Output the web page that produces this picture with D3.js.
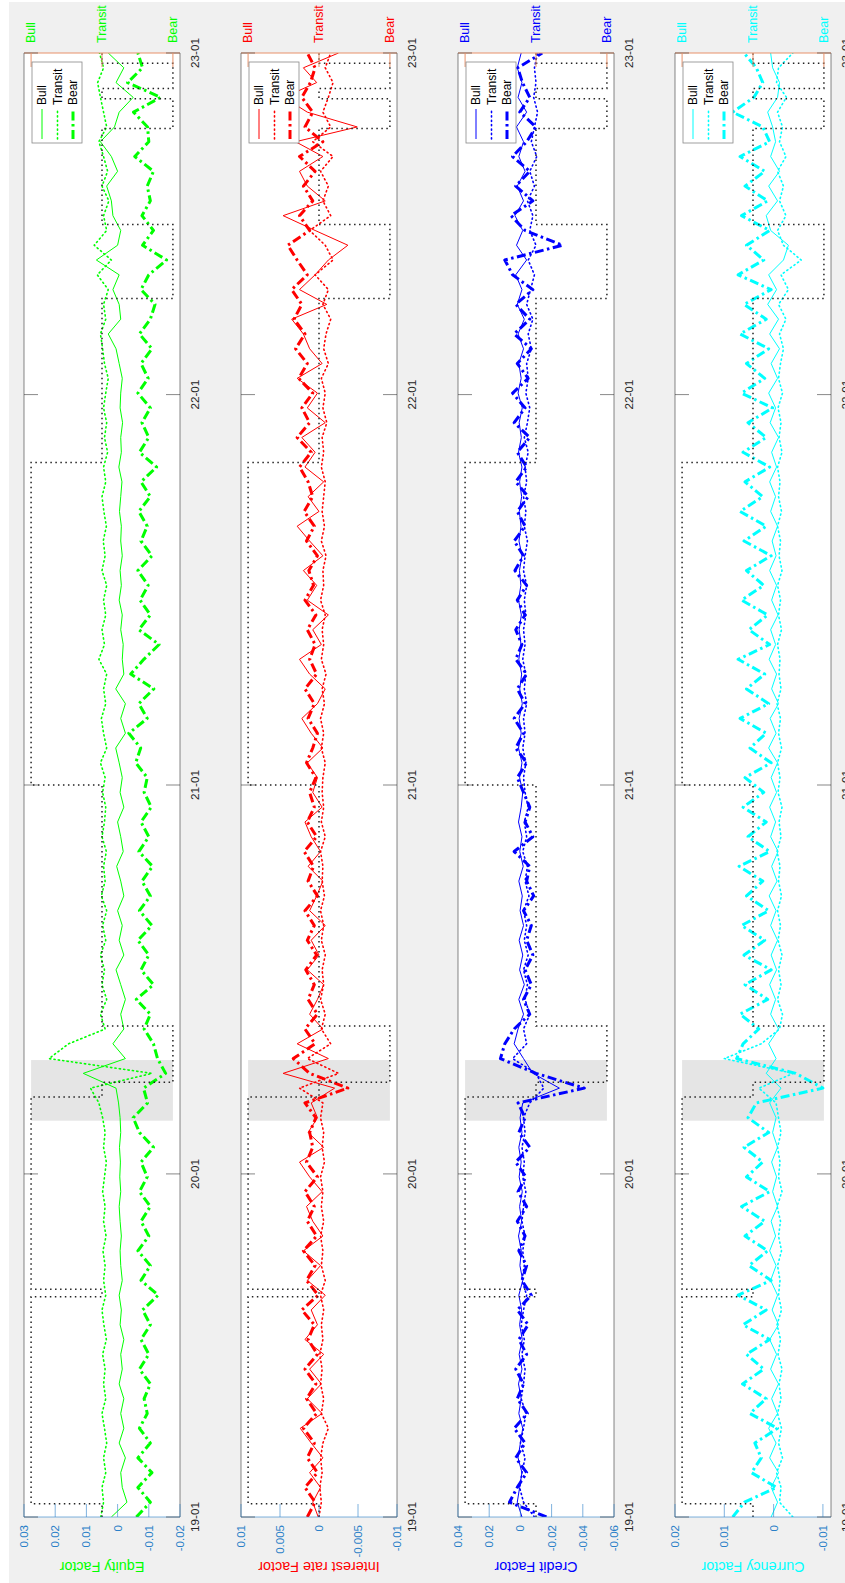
<!DOCTYPE html>
<html><head><meta charset="utf-8">
<script src="https://cdn.jsdelivr.net/npm/d3@7"></script>
<style>body{margin:0;background:#fff}svg{display:block}text{font-family:"Liberation Sans",Arial,Helvetica,sans-serif}</style>
</head><body><svg id="c" width="845" height="1583"></svg>
<script>
// ---------- DATA ----------
const timeTickIndex=[0,23.2,49.5,75.9,99];
const timeTickLabels=["19-01","20-01","21-01","22-01","23-01"];
const regimeLabels=["Bull","Transit","Bear"];
const regimeLevel={Bull:3,Transit:2,Bear:1};
const regimeStart=[0,0.9,14.9,15.4,28.4,29.4,33.2,49.5,71.3,82.4,87.4,93.9,95.9,96.6,98.3,99];
const regimeState=["Transit","Bull","Transit","Bull","Transit","Bear","Transit","Bull","Transit","Bear","Transit","Bear","Transit","Bear","Transit","Transit"];
const shadeRange=[26.8,30.9];
const factorNames=["Equity Factor","Interest rate Factor","Credit Factor","Currency Factor"];
const factorColors=["#00ff00","#ff0000","#0000ff","#00ffff"];
const yDomains=[[-0.02,0.03],[-0.01,0.01],[-0.06,0.04],[-0.01164,0.02]];
const yTicks=[[-0.02,-0.01,0,0.01,0.02,0.03],[-0.01,-0.005,0,0.005,0.01],[-0.06,-0.04,-0.02,0,0.02,0.04],[-0.01,0,0.01,0.02]];
const seriesNames=["Bull","Transit","Bear"];

const eqBull=[0.002,-0.003,-0.0015,-0.001,-0.0025,-0.0005,-0.002,-0.001,-0.002,-0.0005,
-0.0015,-0.001,-0.002,-0.0008,-0.0012,-0.0005,-0.0015,-0.001,-0.0008,-0.0012,
-0.0008,-0.0005,-0.001,-0.0007,-0.0009,-0.0006,-0.001,-0.0008,-0.0003,0.0005,
0.011,-0.0025,0.0015,-0.002,-0.001,-0.0025,-0.001,0.0005,-0.002,-0.0005,
-0.0015,0.0,-0.002,-0.001,0.0003,-0.0018,-0.001,0.0,-0.002,-0.0008,
-0.0015,-0.0005,0.0006,-0.0025,-0.001,-0.0025,0.0006,-0.002,-0.0015,-0.0018,
-0.001,-0.0015,-0.0005,-0.0012,-0.0008,-0.0015,-0.001,-0.0012,-0.0006,-0.001,
-0.0014,-0.0004,-0.0012,-0.001,-0.0016,-0.0008,-0.001,-0.0015,-0.0005,0.0005,
0.003,-0.001,-0.0005,0.0015,-0.0005,0.0068,0.0,-0.001,0.0015,0.002,
0.0035,0.0,0.002,0.0055,0.001,-0.0005,-0.005,0.0005,-0.002,0.003];
const eqTransit=[0.0054,0.0045,0.005,0.0038,0.0045,0.0035,0.0042,0.005,0.0038,0.0045,
0.004,0.0048,0.0036,0.0044,0.005,0.0038,0.0045,0.004,0.0047,0.0037,
0.0045,0.004,0.0048,0.0042,0.0036,0.0045,0.004,0.0048,0.006,0.0087,
-0.011,0.022,0.0157,0.004,0.0055,0.0035,0.005,0.0042,0.0055,0.0038,
0.0048,0.0035,0.0052,0.004,0.0045,0.0036,0.005,0.0042,0.0038,0.0048,
0.004,0.0055,0.0035,0.0045,0.0052,0.0038,0.0045,0.0035,0.006,0.0042,
0.005,0.0038,0.0045,0.0035,0.005,0.004,0.0046,0.0036,0.0044,0.005,
0.0038,0.0045,0.0032,0.0042,0.0035,0.0045,0.0038,0.003,0.0042,0.0048,
0.0055,0.0038,0.0045,0.003,0.0065,0.002,0.0075,0.0035,0.0045,0.0028,
0.005,0.0032,0.0045,0.006,0.0035,0.0045,0.0055,0.0064,0.0045,0.0058];
const eqBear=[-0.006,-0.0105,-0.0065,-0.011,-0.0065,-0.0105,-0.007,-0.0095,-0.0085,-0.0105,
-0.007,-0.01,-0.0075,-0.0105,-0.008,-0.013,-0.0075,-0.0105,-0.0065,-0.01,
-0.0075,-0.0105,-0.007,-0.0095,-0.0075,-0.0115,-0.007,-0.005,-0.0096,-0.0083,
-0.0154,-0.0128,-0.0115,-0.0085,-0.0105,-0.006,-0.0115,-0.0075,-0.01,-0.0065,
-0.011,-0.007,-0.0105,-0.0078,-0.0112,-0.0068,-0.01,-0.0075,-0.0108,-0.0085,
-0.0095,-0.0058,-0.0074,-0.0036,-0.0095,-0.0068,-0.0116,-0.0042,-0.0084,-0.0133,
-0.0068,-0.0105,-0.0072,-0.0098,-0.0065,-0.011,-0.0075,-0.0095,-0.0068,-0.0105,
-0.0075,-0.0125,-0.007,-0.01,-0.0078,-0.0105,-0.0065,-0.0098,-0.0075,-0.011,
-0.007,-0.0105,-0.012,-0.0075,-0.01,-0.0157,-0.008,-0.0115,-0.0078,-0.0105,
-0.0095,-0.0115,-0.0055,-0.01,-0.0096,-0.0051,-0.0138,-0.0032,-0.008,-0.0065];

const irBull=[0.0001,0.0008,-0.0002,0.0012,-0.0005,0.001,0.0024,-0.0004,0.0015,-0.0003,
0.0012,-0.0006,0.0018,0.0002,0.001,-0.0008,0.0015,-0.0002,0.002,-0.0005,
0.0008,0.0016,-0.0004,0.0012,0.0025,-0.0006,0.0014,0.0002,0.001,-0.002,
0.0046,-0.0012,0.0028,-0.0005,0.0012,0.0002,-0.0006,0.0015,0.0,0.001,
-0.0008,0.0012,0.0003,-0.0005,0.0014,-0.0002,0.001,0.0018,-0.0004,0.0008,
0.0002,0.0015,-0.0005,0.001,0.0022,0.0002,-0.0008,0.0012,0.0025,-0.0003,
0.0008,-0.0012,0.0015,0.0003,0.002,-0.0005,0.0012,0.0028,0.0,0.0014,
-0.0006,0.0018,0.0005,0.0022,-0.0008,0.0015,0.0002,0.0028,-0.0004,0.0012,
0.002,0.0035,-0.001,0.0025,0.0005,-0.0012,-0.0037,0.0005,0.0046,-0.0008,
0.0015,0.0025,-0.0005,0.003,-0.0049,0.0015,0.0045,0.0003,0.002,-0.0025];
const irTransit=[0.0,-0.0003,-0.0001,-0.0004,-0.0002,-0.0005,-0.0012,-0.0003,-0.0006,-0.0002,
-0.0004,-0.0001,-0.0005,-0.0003,-0.0006,-0.0002,-0.0008,-0.0003,-0.0005,-0.0002,
-0.0006,-0.0003,-0.0005,-0.0002,-0.0007,-0.0004,-0.0006,-0.0002,-0.0005,0.0025,
-0.0025,0.0015,-0.0015,-0.0003,-0.0008,-0.0002,-0.0006,-0.0004,-0.0008,-0.0003,
-0.0006,-0.0002,-0.0007,-0.0004,-0.0005,-0.0002,-0.0008,-0.0003,-0.0006,-0.0004,
-0.0005,-0.0008,-0.0003,-0.0006,-0.0002,-0.0007,-0.0004,-0.0009,-0.0003,-0.0006,
-0.0004,-0.0008,-0.0002,-0.0006,-0.0005,-0.0009,-0.0003,-0.0007,-0.0004,-0.0006,
-0.0008,-0.0003,-0.0006,-0.0004,-0.001,-0.0005,-0.0008,-0.0003,-0.0012,-0.0006,
-0.0009,-0.0015,-0.0005,-0.0012,0.0005,-0.0018,-0.0008,0.0012,-0.0015,-0.0005,
-0.0012,-0.0002,-0.0018,0.0008,-0.0015,-0.0005,-0.0012,-0.0018,-0.0008,-0.0015];
const irBear=[0.0015,0.0005,0.0018,0.0002,0.0015,0.0006,0.002,0.0003,0.0016,0.0004,
0.0018,0.0002,0.0014,0.0006,0.0022,0.0001,0.0016,0.0005,0.002,0.0003,
0.0015,0.0006,0.0018,0.0002,0.0016,0.0008,0.0012,0.0004,0.0018,-0.0037,
0.0012,0.0033,0.0005,0.0018,0.0002,0.0014,0.0006,0.0017,0.0003,0.0015,
0.0006,0.0018,0.0002,0.0014,0.0007,0.0019,0.0003,0.0015,0.0006,0.0012,
0.0004,0.0016,0.0008,0.0002,0.0014,0.0006,0.0018,0.0003,0.0012,0.0005,
0.0015,0.0004,0.0018,0.0007,0.0013,0.0002,0.0016,0.0006,0.0019,0.0008,
0.0014,0.0025,0.001,0.0028,0.0012,0.0022,0.0008,0.0026,0.0015,0.003,
0.0018,0.0032,0.0022,0.0035,0.0015,0.0028,0.004,0.0012,0.0025,0.0008,
0.002,0.0005,0.0025,-0.0005,0.0018,0.0008,0.0022,0.0011,0.0005,0.0015];

const crBull=[-0.001,0.002,0.0005,-0.001,0.0015,0.0,-0.0015,0.001,-0.0005,0.0012,
-0.001,0.0008,-0.0012,0.0005,-0.0008,0.001,-0.0015,0.0003,-0.0006,0.0012,
-0.0008,0.0005,-0.0012,0.0008,-0.0005,0.001,-0.001,0.0002,-0.0015,-0.025,
-0.008,-0.002,0.004,0.0015,-0.002,0.001,-0.0025,0.0005,-0.0015,0.0008,
-0.002,0.0002,-0.0012,0.001,-0.0018,0.0004,-0.001,0.0012,-0.0005,-0.0015,
0.0005,-0.001,0.0012,-0.0005,0.0008,-0.0012,0.0004,-0.0008,0.001,-0.0004,
0.0008,-0.0006,0.0012,-0.0003,0.0006,-0.001,0.0009,-0.0004,0.0007,-0.0008,
0.0005,-0.001,0.0012,-0.0006,0.0008,-0.0012,0.0015,-0.0005,0.001,-0.002,
0.0015,-0.0025,0.002,-0.001,0.003,-0.004,0.0025,-0.0015,0.0035,-0.002,
0.002,-0.003,0.001,-0.002,0.0025,-0.004,0.0015,-0.001,0.002,-0.0005];
const crTransit=[-0.009,-0.002,0.0005,-0.001,-0.003,0.0,-0.002,-0.0035,-0.0005,-0.002,
-0.003,-0.001,-0.0025,-0.0005,-0.002,-0.004,-0.001,-0.0025,-0.0015,-0.003,
-0.001,-0.002,-0.0035,-0.0015,-0.0025,-0.001,-0.003,-0.002,-0.006,-0.015,
-0.01,0.005,-0.004,-0.002,-0.006,-0.003,-0.0045,-0.002,-0.005,-0.0025,
-0.004,-0.002,-0.0055,-0.003,-0.0045,-0.0015,-0.004,-0.0025,-0.005,-0.003,
-0.002,-0.0035,-0.0015,-0.003,-0.002,-0.004,-0.0025,-0.0035,-0.0015,-0.003,
-0.002,-0.0035,-0.0025,-0.004,-0.002,-0.003,-0.0045,-0.0025,-0.0035,-0.002,
-0.004,-0.003,-0.005,-0.0025,-0.0045,-0.006,-0.0035,-0.005,-0.004,-0.007,
-0.005,-0.008,-0.004,-0.0065,-0.009,-0.005,-0.01,-0.006,-0.008,-0.0045,
-0.009,-0.006,-0.0105,-0.007,-0.009,-0.011,-0.0085,-0.01,-0.009,-0.011];
const crBear=[-0.0167,0.007,0.002,-0.004,0.003,-0.003,0.004,-0.0045,0.002,-0.002,
0.003,-0.004,0.001,-0.005,0.002,-0.007,-0.001,-0.004,0.001,-0.003,
0.002,-0.004,0.0015,-0.0035,0.003,-0.006,0.001,-0.003,0.0015,-0.041,
-0.01,0.0128,0.01,0.004,-0.006,-0.002,-0.007,-0.003,-0.008,-0.004,
-0.007,-0.002,-0.0085,-0.004,-0.006,0.004,-0.008,-0.003,-0.006,-0.002,
0.002,-0.004,0.003,-0.002,0.004,-0.003,0.002,-0.004,0.003,-0.001,
0.003,-0.003,0.002,-0.004,0.0035,-0.002,0.004,-0.003,0.002,-0.005,
0.003,-0.004,0.002,-0.006,0.004,-0.003,0.005,-0.005,0.002,-0.007,
0.004,-0.006,0.003,-0.008,0.005,0.01,-0.027,-0.003,0.006,-0.008,
0.003,-0.006,0.005,-0.004,-0.01,0.0004,-0.006,-0.0013,0.0017,-0.014];

const cuBull=[0.0005,-0.0008,0.0005,-0.001,0.0008,-0.0005,0.001,-0.0008,0.0004,-0.001,
0.0006,-0.0006,0.0008,-0.001,0.0003,-0.0008,0.0006,-0.0005,0.0008,-0.0004,
0.0005,-0.0008,0.0002,-0.0006,0.0004,-0.0008,0.0002,-0.0005,0.0008,-0.0015,
0.0015,-0.0005,0.001,-0.001,0.0006,-0.0004,0.0008,-0.0006,0.0005,-0.0008,
0.0006,-0.0005,0.0009,-0.0007,0.0004,-0.0009,0.0006,-0.0004,0.0008,-0.0006,
0.0005,-0.0008,0.001,-0.0005,0.0007,-0.001,0.0004,-0.0006,0.0009,-0.0004,
0.0006,-0.0009,0.0004,-0.0006,0.0008,-0.0005,0.0003,-0.0008,0.0006,-0.0004,
0.0008,-0.0006,0.0004,-0.001,0.0007,-0.0004,0.001,-0.0008,0.0005,-0.0012,
0.0008,-0.001,0.0012,-0.0006,0.001,-0.002,-0.003,0.0006,0.0015,-0.0008,
0.001,-0.0012,0.0006,-0.0004,0.0002,0.0012,-0.0008,-0.0012,0.0002,0.0006];
const cuTransit=[-0.0039,-0.0012,-0.0015,-0.0006,-0.0018,-0.001,-0.0016,-0.0008,-0.0015,-0.0011,
-0.0017,-0.0009,-0.0014,-0.0007,-0.0016,-0.001,-0.0013,-0.0008,-0.0016,-0.001,
-0.0014,-0.0007,-0.0017,-0.001,-0.0013,-0.0008,-0.0015,-0.001,-0.0005,0.003,
-0.004,0.01,0.0025,-0.0012,-0.0018,-0.0008,-0.0015,-0.001,-0.0017,-0.0009,
-0.0014,-0.0008,-0.0016,-0.001,-0.0013,-0.0007,-0.0015,-0.0011,-0.0017,-0.0009,
-0.0013,-0.0008,-0.0016,-0.001,-0.0014,-0.0007,-0.0015,-0.0011,-0.0013,-0.0008,
-0.0016,-0.001,-0.0014,-0.0008,-0.0017,-0.0011,-0.0014,-0.0008,-0.0016,-0.001,
-0.0013,-0.0008,-0.0017,-0.0011,-0.0015,-0.0009,-0.0018,-0.001,-0.0014,-0.002,
-0.0012,-0.0025,-0.001,-0.003,-0.0015,-0.0056,-0.002,-0.0008,-0.0025,-0.0012,
-0.002,-0.0008,-0.0025,-0.0012,-0.0018,-0.0008,-0.0026,-0.0006,-0.001,-0.0039];
const cuBear=[0.0083,0.0059,-0.0006,0.0045,0.0025,0.0038,-0.0008,0.0048,0.0015,0.0063,
0.002,0.0055,0.0008,0.0062,0.0015,0.0072,0.0005,0.005,0.0012,0.0058,
0.0018,0.0065,0.0008,0.0055,0.0022,0.006,0.001,0.0052,0.0035,-0.01,
-0.0045,0.0075,0.0062,0.003,0.0068,0.0012,0.0058,0.0005,0.006,0.0018,
0.0065,0.001,0.0055,0.0022,0.007,0.0008,0.0052,0.0015,0.0062,0.002,
0.0058,0.0005,0.0048,0.0015,0.0068,0.001,0.0055,0.0018,0.0072,0.0008,
0.005,0.0012,0.0065,0.002,0.0055,0.0005,0.006,0.0015,0.0068,0.0022,
0.0058,0.0008,0.0062,0.0015,0.0052,0.0002,0.0065,0.0018,0.0055,0.001,
0.0068,0.0015,0.006,0.0005,0.0072,0.002,0.0055,0.0008,0.0065,0.0012,
0.0058,0.0018,0.0068,0.0008,0.0022,0.0083,0.004,0.0022,0.0035,0.006];

const panelSeries=[[eqBull,eqTransit,eqBear],[irBull,irTransit,irBear],[crBull,crTransit,crBear],[cuBull,cuTransit,cuBear]];

// ---------- DRAW ----------
const svg=d3.select("#c");
svg.append("rect").attr("width",845).attr("height",1583).attr("fill","#ffffff");
svg.append("rect").attr("x",9).attr("y",2).attr("width",836).attr("height",1581).attr("fill","#f0f0f0");
const g=svg.append("g").attr("transform","translate(0,1583) rotate(-90)");

const X0=66,X1=1530,PH=156,panelTop=[24,241,458,675];
const AX_BLUE="#2a7fc8", AX_ORANGE="#e8916a", AX_GRAY="#262626";
const lineStyles=[
  {w:1,dash:null},
  {w:1.6,dash:"1.2 3.2",cap:"round"},
  {w:3,dash:"9 3.5 2.5 3.5"}
];
const N=eqBull.length;
const x=d3.scaleLinear().domain([0,N-1]).range([X0,X1]);

panelSeries.forEach((ser,p)=>{
  const top=panelTop[p], bot=top+PH, col=factorColors[p];
  const y=d3.scaleLinear().domain(yDomains[p]).range([bot,top]);
  const yR=d3.scaleLinear().domain([0.9,3.1]).range([bot,top]);
  const pg=g.append("g");
  const cid="clip"+p;
  pg.append("clipPath").attr("id",cid).append("rect").attr("x",X0).attr("y",top).attr("width",X1-X0).attr("height",PH);
  pg.append("rect").attr("x",X0).attr("y",top).attr("width",X1-X0).attr("height",PH).attr("fill","#fff");
  pg.append("rect").attr("x",x(shadeRange[0])).attr("width",x(shadeRange[1])-x(shadeRange[0]))
    .attr("y",yR(regimeLevel.Bull)).attr("height",yR(regimeLevel.Bear)-yR(regimeLevel.Bull)).attr("fill","#e5e5e5");
  const cg=pg.append("g").attr("clip-path","url(#"+cid+")");
  ser.forEach((vals,k)=>{
    const st=lineStyles[k];
    const line=d3.line().x((d,i)=>x(i)).y(d=>y(d));
    const path=cg.append("path").attr("d",line(vals)).attr("fill","none").attr("stroke",col)
      .attr("stroke-width",st.w).attr("stroke-linejoin","round");
    if(st.dash) path.attr("stroke-dasharray",st.dash);
    if(st.cap) path.attr("stroke-linecap",st.cap);
  });
  const rpts=regimeStart.map((s,i)=>[s,regimeLevel[regimeState[i]]]);
  const rline=d3.line().x(d=>x(d[0])).y(d=>yR(d[1])).curve(d3.curveStepAfter);
  cg.append("path").attr("d",rline(rpts)).attr("fill","none").attr("stroke","#222")
    .attr("stroke-width",1.5).attr("stroke-dasharray","1.5 3.5");
  pg.append("line").attr("x1",X0).attr("x2",X1).attr("y1",top).attr("y2",top).attr("stroke",AX_GRAY).attr("stroke-opacity",0.55);
  pg.append("line").attr("x1",X0).attr("x2",X1).attr("y1",bot).attr("y2",bot).attr("stroke",AX_GRAY).attr("stroke-opacity",0.55);
  pg.append("line").attr("x1",X0).attr("x2",X0).attr("y1",top).attr("y2",bot).attr("stroke",AX_BLUE).attr("stroke-opacity",0.6);
  pg.append("line").attr("x1",X1).attr("x2",X1).attr("y1",top).attr("y2",bot).attr("stroke",AX_ORANGE);
  timeTickIndex.forEach((t,i)=>{
    const xx=x(t);
    pg.append("line").attr("x1",xx).attr("x2",xx).attr("y1",bot).attr("y2",bot-14).attr("stroke",AX_GRAY).attr("stroke-opacity",0.55);
    pg.append("line").attr("x1",xx).attr("x2",xx).attr("y1",top).attr("y2",top+14).attr("stroke",AX_GRAY).attr("stroke-opacity",0.55);
    pg.append("text").attr("x",xx).attr("y",bot+19).attr("text-anchor","middle").attr("font-size","11.7px")
      .attr("fill",AX_GRAY).text(timeTickLabels[i]);
  });
  yTicks[p].forEach(v=>{
    pg.append("line").attr("x1",X0).attr("x2",X0+13).attr("y1",y(v)).attr("y2",y(v)).attr("stroke",AX_BLUE).attr("stroke-opacity",0.6);
    pg.append("text").attr("x",X0-8).attr("y",y(v)).attr("dy","0.35em").attr("text-anchor","end")
      .attr("font-size","11.5px").attr("fill",AX_BLUE).text(String(v));
  });
  regimeLabels.forEach(r=>{
    const yy=yR(regimeLevel[r]);
    pg.append("line").attr("x1",X1).attr("x2",X1-14).attr("y1",yy).attr("y2",yy).attr("stroke",AX_ORANGE);
    pg.append("text").attr("x",X1+10).attr("y",yy).attr("dy","0.35em").attr("font-size","12.5px").attr("fill",col).text(r);
  });
  pg.append("text").attr("transform",`translate(21.5,${(top+bot)/2}) rotate(-90)`).attr("text-anchor","middle")
    .attr("font-size","14.4px").attr("fill",col).text(factorNames[p]);
  const lx0=1440,lx1=1521,ly0=top+8,ly1=top+58;
  pg.append("rect").attr("x",lx0).attr("y",ly0).attr("width",lx1-lx0).attr("height",ly1-ly0)
    .attr("fill","#fff").attr("stroke","#888").attr("stroke-width",0.8);
  seriesNames.forEach((s,k)=>{
    const yy=ly0+10+k*15.5, st=lineStyles[k];
    const l=pg.append("line").attr("x1",lx0+4).attr("x2",lx0+34).attr("y1",yy).attr("y2",yy)
      .attr("stroke",col).attr("stroke-width",st.w);
    if(st.dash) l.attr("stroke-dasharray",st.dash);
    if(st.cap) l.attr("stroke-linecap",st.cap);
    pg.append("text").attr("x",lx0+38).attr("y",yy).attr("dy","0.35em").attr("font-size","12px").attr("fill","#000").text(s);
  });
});
</script></body></html>
